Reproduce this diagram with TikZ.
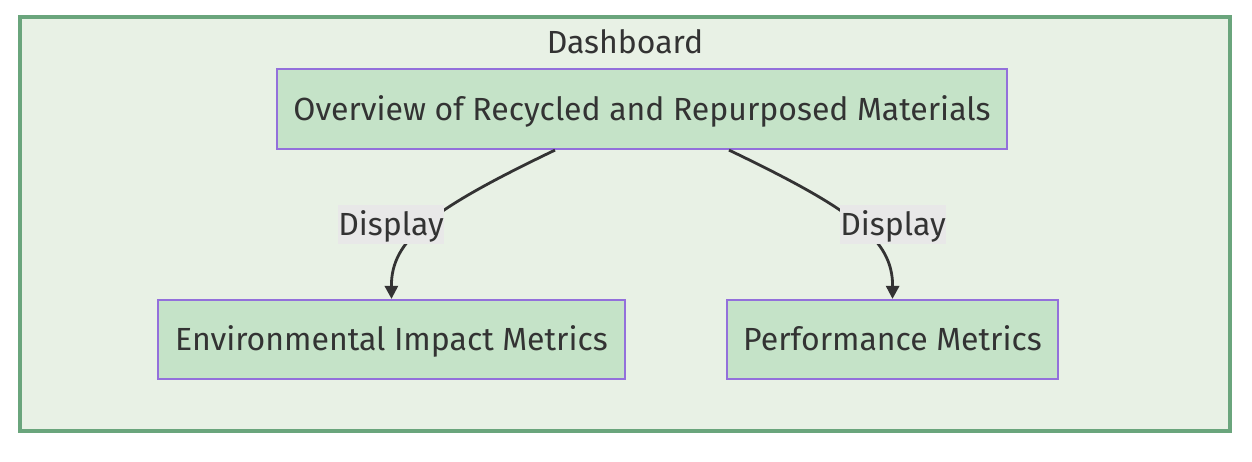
\documentclass[tikz,border=0pt]{standalone}
\usepackage{fontspec}
\setmainfont{Fira Sans}
\usetikzlibrary{arrows.meta}
\definecolor{frameStroke}{HTML}{6AA57C}
\definecolor{frameFill}{HTML}{E8F1E5}
\definecolor{nodeFill}{HTML}{C5E3C8}
\definecolor{nodeStroke}{HTML}{9370DB}
\definecolor{labelFill}{HTML}{E8E8E8}
\definecolor{ink}{HTML}{333333}
\begin{document}
\begin{tikzpicture}[x=1pt,y=-1pt,
  txt/.style={text=ink,font=\fontsize{32}{37}\selectfont,text height=22pt,text depth=0pt},
  box/.style={txt,draw=nodeStroke,fill=nodeFill,line width=2.2pt,inner sep=0pt},
  elabel/.style={txt,fill=labelFill,inner sep=0pt,minimum width=104pt,minimum height=39pt},
  conn/.style={draw=ink,line width=2.8pt,-{Triangle[length=13pt,width=13pt]}}]
\useasboundingbox (0,0) rectangle (1252,461);
\fill[white] (0,0) rectangle (1252,461);
\node[draw=frameStroke,fill=frameFill,line width=3.2pt,minimum width=1210pt,minimum height=414pt,inner sep=0pt] (frame) at (625,224) {};
\node[txt] (dash) at (625,42.5) {Dashboard};
\node[box,minimum width=730pt,minimum height=80pt] (top) at (642,109) {Overview of Recycled and Repurposed Materials};
\node[box,minimum width=467pt,minimum height=79pt] (env) at (391.5,339.5) {Environmental Impact Metrics};
\node[box,minimum width=331pt,minimum height=79pt] (perf) at (892.5,339.5) {Performance Metrics};
\coordinate (s1) at ([xshift=-87pt]top.south);
\coordinate (s2) at ([xshift=87pt]top.south);
\draw[conn] (s1) .. controls (430,210) and (391,240) .. (env.north);
\draw[conn] (s2) .. controls (854,210) and (893,240) .. (perf.north);
\node[elabel] (l1) at (391,224) {Display};
\node[elabel] (l2) at (893,224) {Display};
\end{tikzpicture}
\end{document}
